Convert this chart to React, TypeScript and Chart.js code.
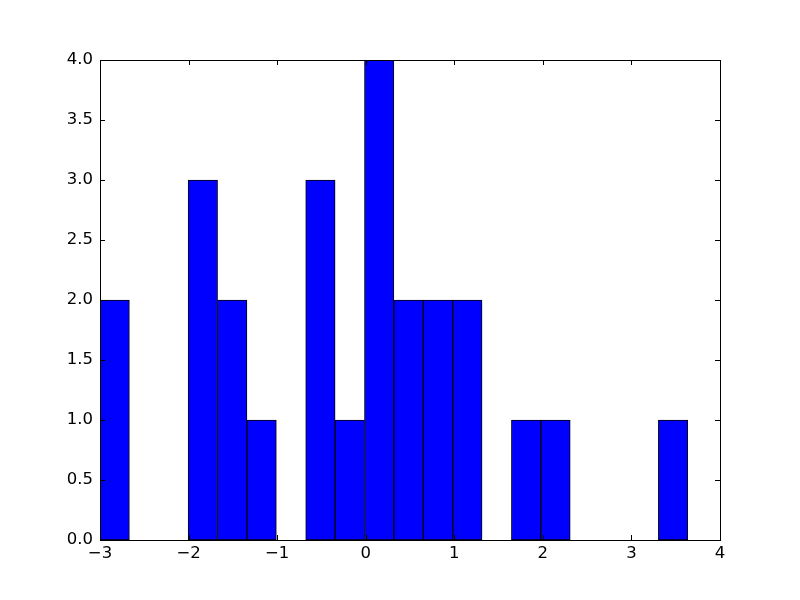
import React, { useEffect, useRef } from "react";
import { Chart, registerables } from "chart.js";

Chart.register(...registerables);

const binStart = -3.0;
const binWidth = 0.3318;
const counts = [2, 0, 0, 3, 2, 1, 0, 3, 1, 4, 2, 2, 2, 0, 1, 1, 0, 0, 0, 1];
const xTicks = [-3, -2, -1, 0, 1, 2, 3, 4];
const yTicks = [0, 0.5, 1, 1.5, 2, 2.5, 3, 3.5, 4];

const frameAndTicks = {
  id: "frameAndTicks",
  afterDraw(chart: any) {
    const { ctx, chartArea } = chart;
    const { left, right, top, bottom } = chartArea;
    const xs = chart.scales.x;
    const ys = chart.scales.y;
    const tl = 5;
    ctx.save();
    ctx.strokeStyle = "#000";
    ctx.lineWidth = 1;
    ctx.beginPath();
    for (const v of xTicks) {
      const px = Math.round(xs.getPixelForValue(v)) + 0.5;
      ctx.moveTo(px, bottom);
      ctx.lineTo(px, bottom - tl);
      ctx.moveTo(px, top);
      ctx.lineTo(px, top + tl);
    }
    for (const v of yTicks) {
      const py = Math.round(ys.getPixelForValue(v)) + 0.5;
      ctx.moveTo(left, py);
      ctx.lineTo(left + tl, py);
      ctx.moveTo(right, py);
      ctx.lineTo(right - tl, py);
    }
    ctx.stroke();
    ctx.strokeRect(Math.round(left) + 0.5, Math.round(top) + 0.5, Math.round(right - left), Math.round(bottom - top));
    ctx.restore();
  },
};

export default function App() {
  const ref = useRef<HTMLCanvasElement>(null);
  useEffect(() => {
    document.body.style.margin = "0";
    const data = counts.map((c, i) => ({ x: binStart + binWidth * (i + 0.5), y: c }));
    const chart = new Chart(ref.current!, {
      type: "bar",
      data: {
        datasets: [
          {
            data,
            backgroundColor: "#0000ff",
            borderColor: "#000000",
            borderWidth: 1,
            borderSkipped: false,
            barPercentage: 1,
            categoryPercentage: 1,
          } as any,
        ],
      },
      options: {
        animation: false,
        responsive: false,
        maintainAspectRatio: false,
        layout: { padding: { top: 60, right: 80, left: 0, bottom: 0 } },
        plugins: { legend: { display: false }, tooltip: { enabled: false } },
        scales: {
          x: {
            type: "linear",
            min: -3,
            max: 4,
            offset: false,
            grid: { display: false, drawTicks: false },
            border: { display: false },
            afterFit: (s: any) => { s.height = 60; },
            afterBuildTicks: (s: any) => { s.ticks = xTicks.map((v) => ({ value: v })); },
            ticks: {
              padding: 4,
              color: "#000",
              font: { family: "DejaVu Sans", size: 16.5 },
              maxRotation: 0,
              callback: (v: any) => (Number(v) < 0 ? "\u2212" + Math.abs(Number(v)) : String(v)),
            },
          },
          y: {
            type: "linear",
            min: 0,
            max: 4,
            grid: { display: false, drawTicks: false },
            border: { display: false },
            afterFit: (s: any) => { s.width = 100; },
            afterBuildTicks: (s: any) => { s.ticks = yTicks.map((v) => ({ value: v })); },
            ticks: {
              padding: 7,
              color: "#000",
              font: { family: "DejaVu Sans", size: 16.5 },
              callback: (v: any) => Number(v).toFixed(1),
            },
          },
        },
      },
      plugins: [frameAndTicks],
    });
    return () => chart.destroy();
  }, []);
  return (
    <div style={{ width: 800, height: 600, background: "#fff" }}>
      <canvas ref={ref} width={800} height={600} style={{ display: "block" }} />
    </div>
  );
}
